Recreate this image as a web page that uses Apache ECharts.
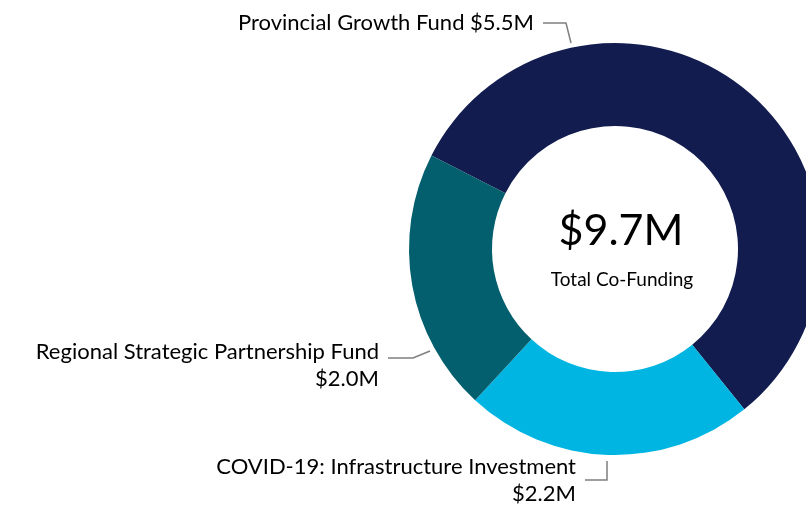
<!DOCTYPE html>
<html>
<head>
<meta charset="utf-8">
<script src="https://cdn.jsdelivr.net/npm/echarts@6/dist/echarts.min.js"></script>
<style>
html,body{margin:0;padding:0;background:#fff;}
#chart{width:806px;height:506px;}
</style>
</head>
<body>
<div id="chart"></div>
<script>
// Data (clockwise order from the top-left boundary)
const categories = ['Provincial Growth Fund', 'COVID-19: Infrastructure Investment', 'Regional Strategic Partnership Fund'];
const values = [5.5, 2.2, 2.0];
const colors = ['#121C4E', '#00B5E1', '#035F6E'];
const totalLabel = '$9.7M';
const totalCaption = 'Total Co-Funding';

// Label placement (layout only)
const labelPlacement = [
  { x: 534, y: 23, line: [[571, 43], [566, 23], [543, 23]] },
  { x: 576, y: 480, line: [[607, 461], [607, 480], [585, 480]] },
  { x: 379, y: 365, line: [[430, 351], [413, 358], [388, 358]] }
];

const FONT = 'Lato, "Open Sans", sans-serif';
const chart = echarts.init(document.getElementById('chart'), null, { renderer: 'canvas' });

chart.setOption({
  animation: false,
  backgroundColor: '#ffffff',
  graphic: [
    { type: 'text', x: 621, y: 231, style: { text: totalLabel, font: '43px ' + FONT, fill: '#000', textAlign: 'center', textVerticalAlign: 'middle' } },
    { type: 'text', x: 622, y: 280, style: { text: totalCaption, font: '19px ' + FONT, fill: '#000', textAlign: 'center', textVerticalAlign: 'middle' } }
  ],
  series: [{
    type: 'pie',
    center: [615, 249],
    radius: [123, 206],
    startAngle: 153,
    clockwise: true,
    avoidLabelOverlap: false,
    silent: true,
    itemStyle: { borderWidth: 0 },
    label: {
      show: true,
      position: 'outside',
      color: '#000',
      fontFamily: FONT,
      fontSize: 22,
      lineHeight: 27,
      align: 'right',
      formatter: p => p.name + (p.dataIndex === 0 ? ' ' : '\n') + '$' + p.value.toFixed(1) + 'M'
    },
    labelLine: { show: true, lineStyle: { color: '#7F7F7F', width: 1.5 } },
    labelLayout: params => {
      const pl = labelPlacement[params.dataIndex];
      return { x: pl.x, y: pl.y, align: 'right', verticalAlign: 'middle', labelLinePoints: pl.line, hideOverlap: false };
    },
    data: categories.map((c, i) => ({ name: c, value: values[i], itemStyle: { color: colors[i] } }))
  }]
});
</script>
</body>
</html>
